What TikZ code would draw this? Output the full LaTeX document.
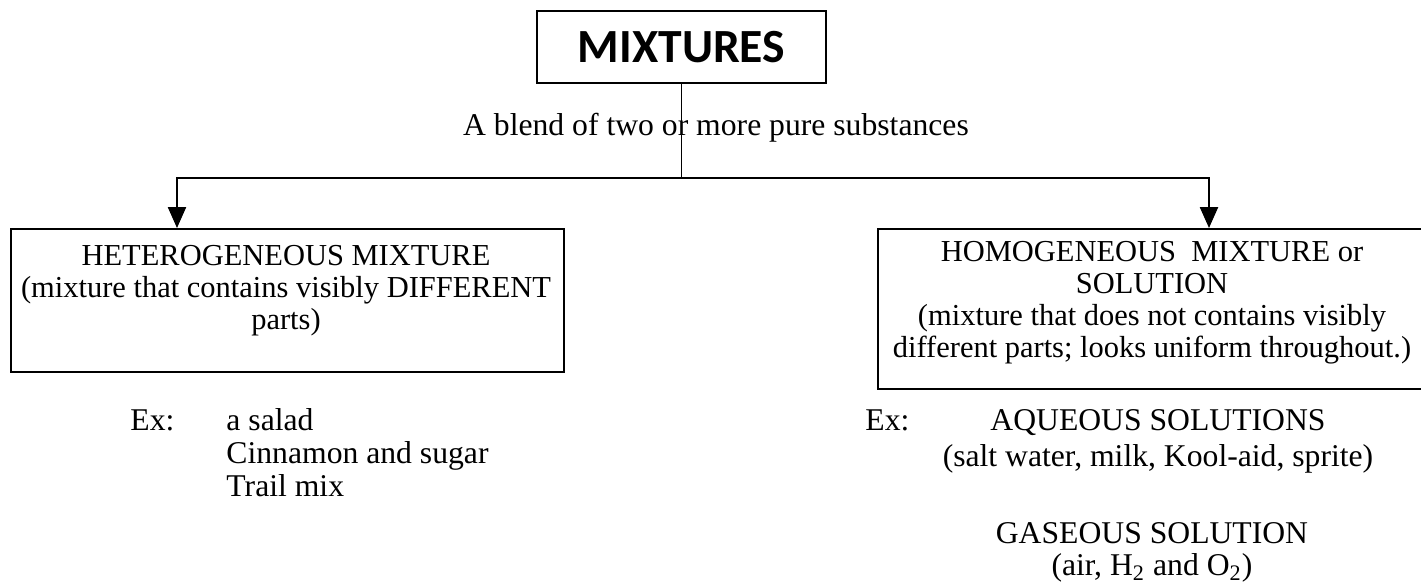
\documentclass[tikz,border=0pt]{standalone}
\usepackage{fontspec}
\setmainfont{Liberation Serif}
\newfontfamily\headfont{Carlito}
\usetikzlibrary{arrows.meta}

\tikzset{
  frame/.style={draw, line width=0.8pt, inner sep=0pt, anchor=north west},
  boxtxt/.style={inner sep=0pt, align=center, anchor=base, font=\fontsize{12.8}{13.44}\selectfont},
  txt/.style={inner sep=0pt, anchor=base, font=\fontsize{13.3}{13.9}\selectfont},
  item/.style={txt, anchor=base west},
  link/.style={line width=0.8pt},
  pointer/.style={link, -{Triangle[length=8.8pt,width=7.6pt]}}
}

\begin{document}
\begin{tikzpicture}[x=0.42pt,y=-0.42pt]
\useasboundingbox (0,0) rectangle (1421,582);
\clip (0,0) rectangle (1421,582);
\node[frame, anchor=center, minimum width=121.4pt, minimum height=30.2pt] (mix) at (681.5,47) {\headfont\bfseries\fontsize{20}{24}\selectfont MIXTURES};
\node[txt] (blend) at (716,135) {A blend of two or more pure substances};
\node[frame, minimum width=232.3pt, minimum height=60pt] (hetero) at (10,228) {};
\node[boxtxt] (heterotxt) at (286,329) {HETEROGENEOUS MIXTURE\\(mixture that contains visibly DIFFERENT\\parts)};
\node[frame, minimum width=231pt, minimum height=67.2pt] (homo) at (877,228) {};
\node[boxtxt] (homotxt) at (1152,357) {HOMOGENEOUS\ \ MIXTURE or\\SOLUTION\\(mixture that does not contains visibly\\different parts; looks uniform throughout.)};
\coordinate (bar) at (681.5,178);
\coordinate (lfork) at (177,178);
\coordinate (rfork) at (1209,178);
\draw[link] (mix.south) -- (bar);
\draw[pointer] (bar) -- (lfork) -- (lfork |- hetero.north);
\draw[pointer] (bar) -- (rfork) -- (rfork |- homo.north);
\node[item] (exl) at (130,430) {Ex:};
\node[item] (salad) at (226,430) {a salad};
\node[item] (cinnamon) at (226,463) {Cinnamon and sugar};
\node[item] (trail) at (226,496) {Trail mix};
\node[item] (exr) at (865,430) {Ex:};
\node[txt] (aqueous) at (1158,430) {AQUEOUS SOLUTIONS};
\node[txt] (aqueousex) at (1158,466) {(salt water, milk, Kool-aid, sprite)};
\node[txt] (gaseous) at (1152,543) {GASEOUS SOLUTION};
\node[txt] (gaseousex) at (1152,575) {(air, H\textsubscript{2} and O\textsubscript{2})};
\end{tikzpicture}
\end{document}
